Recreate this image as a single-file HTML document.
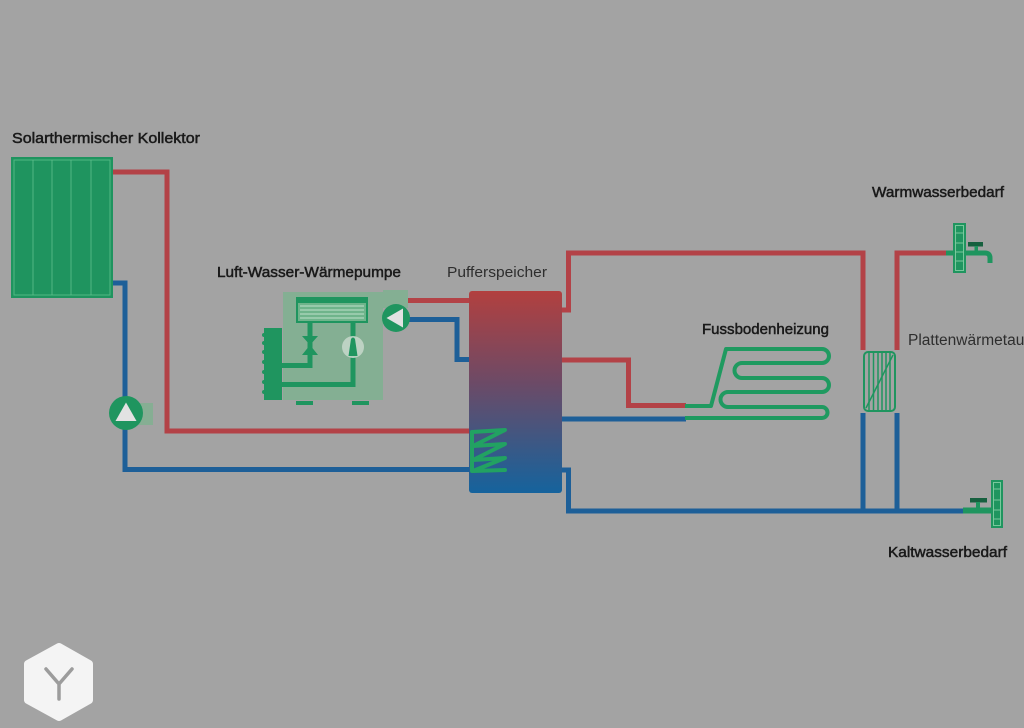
<!DOCTYPE html>
<html><head><meta charset="utf-8"><style>
html,body{margin:0;padding:0;background:#a3a3a3;}
svg{display:block;}
text{font-family:"Liberation Sans",Arial,sans-serif;}
</style></head><body>
<svg width="1024" height="728" viewBox="0 0 1024 728" xmlns="http://www.w3.org/2000/svg">
<defs>
<linearGradient id="buf" x1="0" y1="0" x2="0" y2="1">
<stop offset="0" stop-color="#b2403f"/>
<stop offset="0.45" stop-color="#6d4a66"/>
<stop offset="1" stop-color="#15639d"/>
</linearGradient>
</defs>
<rect width="1024" height="728" fill="#a3a3a3"/>

<!-- labels -->
<g fill="#1a1a1a" stroke="#1a1a1a" stroke-width="0.5" font-size="15">
<text x="12" y="143" textLength="188" lengthAdjust="spacingAndGlyphs">Solarthermischer Kollektor</text>
<text x="217" y="277" textLength="184" lengthAdjust="spacingAndGlyphs">Luft-Wasser-Wärmepumpe</text>
<text x="702" y="334" textLength="127" lengthAdjust="spacingAndGlyphs">Fussbodenheizung</text>
<text x="872" y="197" textLength="132" lengthAdjust="spacingAndGlyphs">Warmwasserbedarf</text>
<text x="888" y="557" textLength="119" lengthAdjust="spacingAndGlyphs">Kaltwasserbedarf</text>
</g>
<g fill="#2e2e2e" font-size="15">
<text x="447" y="277" textLength="100" lengthAdjust="spacingAndGlyphs">Pufferspeicher</text>
<text x="908" y="345" font-size="15.5">Plattenwärmetauscher</text>
</g>

<!-- pipes -->
<g fill="none" stroke-width="5" stroke-linejoin="miter">
<g stroke="#b34247">
<path d="M113 172 H167 V431 H470"/>
<path d="M367 300.5 H470"/>
<path d="M561 310 H568.5 V253 H863 V350"/>
<path d="M561 360 H628.5 V405.5 H686"/>
<path d="M897 350 V253 H948"/>
</g>
<g stroke="#1d5f98">
<path d="M113 283 H125 V469.5 H470"/>
<path d="M367 319.5 H457 V359.5 H470"/>
<path d="M561 419 H686"/>
<path d="M561 470 H568.5 V511 H965"/>
<path d="M863 413 V511"/>
<path d="M897 413 V511"/>
</g>
</g>

<!-- collector -->
<rect x="11" y="157" width="102" height="141" fill="#1f945f"/>
<rect x="14" y="160" width="96" height="135" fill="none" stroke="#5fbf8c" stroke-width="1" opacity="0.8"/>
<g stroke="#5fbf8c" stroke-width="1" opacity="0.8">
<line x1="33" y1="160" x2="33" y2="295"/>
<line x1="52" y1="160" x2="52" y2="295"/>
<line x1="71" y1="160" x2="71" y2="295"/>
<line x1="91" y1="160" x2="91" y2="295"/>
</g>

<!-- collector pump -->
<rect x="137" y="403" width="16" height="22" fill="#86ae93"/>
<circle cx="126" cy="413" r="17" fill="#1f955f"/>
<polygon points="126,402.5 115.5,421 136.5,421" fill="#e2e2e2"/>

<!-- heat pump -->
<rect x="283" y="292" width="100" height="108" fill="#84af93"/>
<rect x="383" y="290" width="25" height="18" fill="#84af93"/>
<rect x="297" y="298" width="70" height="24" fill="#6fb48b" stroke="#1f955f" stroke-width="2"/>
<rect x="297" y="297" width="70" height="6" fill="#1f955f"/>
<g stroke="#bfe0cb" stroke-width="1">
<line x1="300" y1="306" x2="364" y2="306"/>
<line x1="300" y1="310" x2="364" y2="310"/>
<line x1="300" y1="314" x2="364" y2="314"/>
<line x1="300" y1="318" x2="364" y2="318"/>
</g>
<g fill="none" stroke="#1f955f" stroke-width="5">
<path d="M310 322 V365.5 H280"/>
<path d="M353 322 V384.5 H280"/>
</g>
<polygon points="302,336 318,336 310,345 318,355 302,355 310,345" fill="#1f955f"/>
<circle cx="353" cy="347" r="11" fill="#c3d6c9" opacity="0.9"/>
<path d="M351 339 Q353 336 355 339 L357.5 356 L348.5 356 Z" fill="#1f955f"/>
<rect x="264" y="328" width="18" height="72" fill="#1f955f"/>
<g fill="#1f955f">
<circle cx="264" cy="335" r="2"/><circle cx="264" cy="343" r="2"/><circle cx="264" cy="352" r="2"/>
<circle cx="264" cy="362" r="2"/><circle cx="264" cy="372" r="2"/><circle cx="264" cy="382" r="2"/><circle cx="264" cy="392" r="2"/>
</g>
<rect x="296" y="401" width="17" height="4" fill="#1f955f"/>
<rect x="352" y="401" width="17" height="4" fill="#1f955f"/>
<circle cx="396" cy="318" r="14" fill="#1f955f"/>
<polygon points="386.5,318 403,308.5 403,327.5" fill="#e2e2e2"/>

<!-- buffer -->
<rect x="469" y="291" width="93" height="202" rx="3" fill="url(#buf)"/>
<g fill="none" stroke="#22a262" stroke-width="4" stroke-linecap="round" stroke-linejoin="round">
<path d="M472 432 L505 430 L473 446 L505 444 L473 460 L505 458 L473 471 L505 470"/>
<path d="M472 432 V471"/>
</g>

<!-- floor heating -->
<path d="M685 406 L711 406 L726 349 L822 349 A7 7 0 0 1 822 363 L742 363 A7.5 7.5 0 0 0 742 378 L822 378 A7 7 0 0 1 822 392 L728 392 A7.5 7.5 0 0 0 728 407 L822 407 A5.5 5.5 0 0 1 822 418 L685 418" fill="none" stroke="#1f9a60" stroke-width="4" stroke-linejoin="round"/>

<!-- plate heat exchanger -->
<rect x="864" y="352" width="31" height="59" rx="4" fill="none" stroke="#1f955f" stroke-width="2"/>
<g stroke="#1f955f" stroke-width="1.5">
<line x1="869" y1="353" x2="869" y2="410"/>
<line x1="873.5" y1="353" x2="873.5" y2="410"/>
<line x1="878" y1="353" x2="878" y2="410"/>
<line x1="882" y1="353" x2="882" y2="410"/>
<line x1="886" y1="353" x2="886" y2="410"/>
<line x1="890" y1="353" x2="890" y2="410"/>
<line x1="866" y1="408" x2="893" y2="355"/>
</g>

<!-- warm water tap -->
<rect x="946" y="250.5" width="8" height="5" fill="#1f955f"/>
<rect x="953" y="223" width="13" height="50" fill="#1f955f"/>
<g stroke="#79c89c" stroke-width="1" fill="none">
<rect x="955.5" y="225.5" width="8" height="45"/>
<line x1="955.5" y1="233" x2="963.5" y2="233"/>
<line x1="955.5" y1="243" x2="963.5" y2="243"/>
<line x1="955.5" y1="252" x2="963.5" y2="252"/>
<line x1="955.5" y1="261" x2="963.5" y2="261"/>
</g>
<path d="M966 253 H985 Q990 253 990 258 V263" fill="none" stroke="#1f955f" stroke-width="5"/>
<rect x="968" y="242" width="15" height="4.5" fill="#17603f"/>
<rect x="974.5" y="246" width="3.5" height="6" fill="#1f955f"/>

<!-- cold water tap -->
<rect x="963" y="507.5" width="29" height="6" fill="#1f955f"/>
<rect x="991" y="480" width="12" height="48" fill="#1f955f"/>
<g stroke="#79c89c" stroke-width="1" fill="none">
<rect x="993.5" y="482.5" width="7" height="43"/>
<line x1="993.5" y1="489" x2="1000.5" y2="489"/>
<line x1="993.5" y1="500" x2="1000.5" y2="500"/>
<line x1="993.5" y1="510" x2="1000.5" y2="510"/>
<line x1="993.5" y1="519" x2="1000.5" y2="519"/>
</g>
<rect x="970" y="498" width="17" height="4.5" fill="#17603f"/>
<rect x="976" y="502" width="4" height="6" fill="#1f955f"/>

<!-- logo -->
<polygon points="59,647 89,664 89,700 59,717 28,700 28,664" fill="#f4f4f4" stroke="#f4f4f4" stroke-width="8" stroke-linejoin="round"/>
<path d="M46 669 L59 684 L72 669 M59 684 V699" fill="none" stroke="#9c9c9c" stroke-width="3.5" stroke-linecap="round" stroke-linejoin="round"/>
</svg>
</body></html>
